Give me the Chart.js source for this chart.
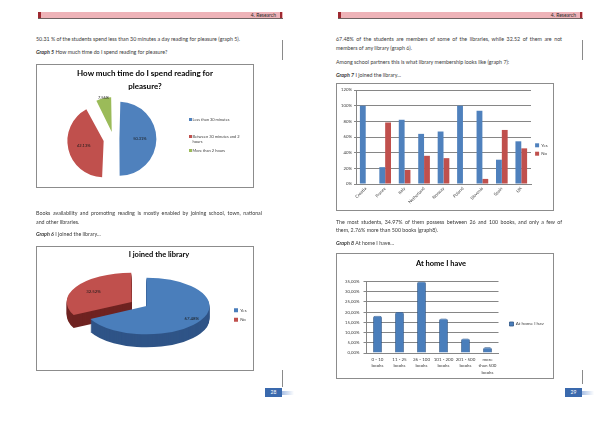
<!DOCTYPE html>
<html>
<head>
<meta charset="utf-8">
<script src="https://cdn.jsdelivr.net/npm/chart.js@4.4.1/dist/chart.umd.min.js"></script>
<style>
    html, body { margin: 0; padding: 0; background: #fff; }
    body { width: 600px; height: 424px; position: relative; overflow: hidden; font-family: Lato, 'Open Sans', sans-serif; color: #3a3a3a; }
    .txt { position: absolute; font-size: 5.3px; line-height: 9px; white-space: nowrap; }
    .just { width: 226px; text-align: justify; text-align-last: justify; }
    .band { position: absolute; top: 12px; width: 245px; height: 6px; background: #eeb3b8; border-bottom: 1px solid #6f6262; }
    .band::before, .band::after { content: ''; position: absolute; top: 0; width: 2.5px; height: 6px; background: #9e2a31; }
    .band::before { left: 0; }
    .band::after { right: 1px; }
    .band span { position: absolute; right: 7px; top: 0; font-size: 5px; line-height: 6px; color: #2a2a2a; }
    .vline { position: absolute; width: 1px; background: #8a8a8a; }
    .frame { position: absolute; border: 1px solid #8c8c8c; box-sizing: border-box; }
    canvas { position: absolute; }
    .pg { position: absolute; width: 17px; height: 9px; background: #3a69ad; color: #fff; font-size: 5px; line-height: 9px; text-align: center; }
    .swoosh { position: absolute; width: 12px; height: 4px; background: linear-gradient(to right, #a9c0e4, rgba(255,255,255,0)); }
    .ctitle { position: absolute; text-align: center; font-weight: bold; color: #000; font-size: 8px; line-height: 12.7px; }
    .legend { position: absolute; font-size: 4px; line-height: 5.5px; color: #404040; }
    .legend div { position: relative; padding-left: 3.5px; white-space: nowrap; }
    .legend i { position: absolute; left: 0; top: 1.3px; width: 3px; height: 3px; }
</style>
</head>
<body>

<!-- left page -->
<div class="band" style="left:38px"><span>4. Research</span></div>
<div class="vline" style="left:282px; top:40px; height:20px"></div>
<div class="txt" style="left:36px; top:34.5px">50.31 % of the students spend less than 30 minutes a day reading for pleasure (graph 5).</div>
<div class="txt" style="left:36px; top:47.5px"><b><i>Graph 5</i></b> How much time do I spend reading for pleasure?</div>
<canvas id="timeChart" width="218" height="124" style="left:36px; top:64px"></canvas>
<div class="ctitle" style="left:36px; top:67px; width:218px">How much time do I spend reading for<br>pleasure?</div>
<div class="legend" id="timeLegend" style="left:189px; top:117px"></div>
<div class="frame" style="left:36px; top:64px; width:218px; height:124px"></div>
<div class="txt just" style="left:36px; top:208.5px">Books availability and promoting reading is mostly enabled by joining school, town, national</div>
<div class="txt" style="left:36px; top:217.5px">and other libraries.</div>
<div class="txt" style="left:36px; top:229.5px"><b><i>Graph 6</i></b> I joined the library...</div>
<canvas id="joinedChart" width="218" height="125" style="left:36px; top:246px"></canvas>
<div class="frame" style="left:36px; top:246px; width:218px; height:125px"></div>
<div class="vline" style="left:282px; top:370px; height:17px"></div>
<div class="pg" style="left:265px; top:388px">28</div>
<div class="swoosh" style="left:282px; top:391px"></div>

<!-- right page -->
<div class="band" style="left:338px"><span>4. Research</span></div>
<div class="vline" style="left:582px; top:40px; height:20px"></div>
<div class="txt just" style="left:336px; top:34.5px">67.48% of the students are members of some of the libraries, while 32.52 of them are not</div>
<div class="txt" style="left:336px; top:43.5px">members of any library (graph 6).</div>
<div class="txt" style="left:336px; top:57.5px">Among school partners this is what library membership looks like (graph 7):</div>
<div class="txt" style="left:336px; top:70.5px"><b><i>Graph 7</i></b> I joined the library...</div>
<canvas id="countryChart" width="218" height="128" style="left:336px; top:83px"></canvas>
<div class="frame" style="left:336px; top:83px; width:218px; height:128px"></div>
<div class="txt just" style="left:336px; top:217.5px">The most students, 34.97% of them possess between 26 and 100 books, and only a few of</div>
<div class="txt" style="left:336px; top:226px">them, 2.76% more than 500 books (graph8).</div>
<div class="txt" style="left:336px; top:238.5px"><b><i>Graph 8</i></b> At home I have...</div>
<canvas id="booksChart" width="218" height="126" style="left:336px; top:253px"></canvas>
<div class="frame" style="left:336px; top:253px; width:218px; height:126px"></div>
<div class="vline" style="left:582px; top:370px; height:14px"></div>
<div class="pg" style="left:565px; top:388px">29</div>
<div class="swoosh" style="left:582px; top:391px"></div>

<script>
    // graph 5
    const timeLabels = ['Less than 30 minutes', ['Between 30 minutes and 2', 'hours'], 'More than 2 hours'];
    const timeValues = [50.31, 42.13, 7.56];
    const timeColors = ['#4f81bd', '#c0504d', '#9bbb59'];

    // graph 6
    const joinedLabels = ['Yes', 'No'];
    const joinedValues = [67.48, 32.52];

    // graph 7
    const countries = ['Croatia', 'France', 'Italy', 'Netherland', 'Norway', 'Poland', 'Slovenia', 'Spain', 'UK'];
    const yesValues = [100, 21.5, 82, 64, 67, 100, 93.5, 31, 54.5];
    const noValues = [0, 78.5, 18, 36, 33, 0, 6.5, 69, 45.5];
    const shareTicks = ['0%', '20%', '40%', '60%', '80%', '100%', '120%'];

    // graph 8
    const bookLabels = [['0 - 10', 'books'], ['11 - 25', 'books'], ['26 - 100', 'books'], ['101 - 200', 'books'], ['201 - 500', 'books'], ['more', 'than 500', 'books']];
    const bookValues = [18.2, 20.1, 34.97, 16.9, 7.07, 2.76];
    const bookTicks = ['0,00%', '5,00%', '10,00%', '15,00%', '20,00%', '25,00%', '30,00%', '35,00%'];

    Chart.defaults.font.family = 'Lato';
    Chart.defaults.color = '#404040';
    Chart.defaults.animation = false;
    Chart.defaults.responsive = false;
    Chart.defaults.plugins.tooltip.enabled = false;

    // percentage text on each slice (arc offset is drawn at a quarter of its value)
    const sliceLabels = {
        id: 'sliceLabels',
        afterDatasetsDraw(chart, args, opts) {
            const ctx = chart.ctx;
            const values = chart.data.datasets[0].data;
            ctx.save();
            ctx.font = opts.size + 'px Lato';
            ctx.fillStyle = '#1a1a1a';
            ctx.textAlign = 'center';
            ctx.textBaseline = 'middle';
            chart.getDatasetMeta(0).data.forEach((arc, i) => {
                const mid = (arc.startAngle + arc.endAngle) / 2;
                const r = arc.outerRadius * opts.factors[i] + (arc.options.offset || 0) / 4;
                const x = arc.x + Math.cos(mid) * r;
                const y = arc.y + Math.sin(mid) * r * opts.tilt;
                ctx.fillText(values[i].toFixed(2) + '%', x, y);
            });
            ctx.restore();
        }
    };

    // flattens the pie and gives it a side wall
    const pie3d = {
        id: 'pie3d',
        beforeDatasetsDraw(chart, args, opts) {
            const ctx = chart.ctx;
            const arcs = chart.getDatasetMeta(0).data;
            const cx = arcs[0].x, cy = arcs[0].y;
            ctx.save();
            for (let d = opts.depth; d > 0; d--) {
                ctx.save();
                ctx.translate(cx, cy + d);
                ctx.scale(1, opts.tilt);
                ctx.translate(-cx, -cy);
                arcs.forEach((arc, i) => {
                    const saved = arc.options;
                    arc.options = Object.assign({}, saved, { backgroundColor: opts.sideColors[i] });
                    arc.draw(ctx);
                    arc.options = saved;
                });
                ctx.restore();
            }
            ctx.translate(cx, cy);
            ctx.scale(1, opts.tilt);
            ctx.translate(-cx, -cy);
        },
        afterDatasetsDraw(chart) {
            chart.ctx.restore();
        }
    };

    document.addEventListener('DOMContentLoaded', function () {
        const ctx = document.getElementById('timeChart').getContext('2d');
        new Chart(ctx, {
            type: 'pie',
            data: {
                labels: timeLabels,
                datasets: [{
                    data: timeValues,
                    backgroundColor: timeColors,
                    borderWidth: 0,
                    offset: [24, 40, 28],
                    radius: 31
                }]
            },
            options: {
                layout: { padding: { left: 0, right: 63.2, top: 30, bottom: 4.4 } },
                plugins: {
                    legend: { display: false },
                    sliceLabels: { size: 4, tilt: 1, factors: [0.66, 0.66, 1.13] }
                }
            },
            plugins: [sliceLabels]
        });

        // legend beside the pie, built from the same labels and colours
        const box = document.getElementById('timeLegend');
        const gaps = [0, 11, 3];
        timeLabels.forEach(function (label, i) {
            const item = document.createElement('div');
            item.style.marginTop = gaps[i] + 'px';
            item.innerHTML = '<i style="background:' + timeColors[i] + '"></i>' + [].concat(label).join('<br>');
            box.appendChild(item);
        });
    });

    document.addEventListener('DOMContentLoaded', function () {
        const ctx = document.getElementById('joinedChart').getContext('2d');
        new Chart(ctx, {
            type: 'pie',
            data: {
                labels: joinedLabels,
                datasets: [{
                    data: joinedValues,
                    backgroundColor: ['#4a7ebb', '#c0504d'],
                    borderWidth: 0,
                    offset: [0, 70],
                    radius: 63,
                    clip: false
                }]
            },
            options: {
                layout: { padding: { left: 28, right: 0, top: 0, bottom: 20.5 } },
                plugins: {
                    title: {
                        display: true,
                        text: 'I joined the library',
                        color: '#000',
                        font: { size: 7.5, weight: 'bold' },
                        padding: { top: 4.5, bottom: 2 }
                    },
                    legend: {
                        position: 'right',
                        fullSize: false,
                        maxWidth: 25,
                        title: { display: true, text: ' ', font: { size: 4, lineHeight: 1 }, padding: { top: 14, bottom: 0 } },
                        labels: { boxWidth: 4, boxHeight: 4, padding: 5, font: { size: 4.3 } }
                    },
                    pie3d: { depth: 13, tilt: 0.45, sideColors: ['#2f5487', '#6f2321'] },
                    sliceLabels: { size: 4.3, tilt: 0.45, factors: [0.84, 0.71] }
                }
            },
            plugins: [pie3d, sliceLabels]
        });
    });

    document.addEventListener('DOMContentLoaded', function () {
        const ctx = document.getElementById('countryChart').getContext('2d');
        new Chart(ctx, {
            type: 'bar',
            data: {
                labels: countries,
                datasets: [
                    { label: 'Yes', data: yesValues, backgroundColor: '#4f81bd' },
                    { label: 'No', data: noValues, backgroundColor: '#c0504d' }
                ]
            },
            options: {
                categoryPercentage: 0.6,
                barPercentage: 1,
                layout: { padding: { left: 4, right: 0, top: 7, bottom: 2 } },
                scales: {
                    x: {
                        grid: { display: false, drawTicks: false },
                        border: { color: '#868686' },
                        ticks: { font: { size: 4.3 }, minRotation: 45, maxRotation: 45, autoSkip: false, padding: 2 },
                        afterFit: function (scale) { scale.height = 25; }
                    },
                    y: {
                        min: 0,
                        max: 120,
                        grid: { color: '#868686', tickLength: 2 },
                        border: { color: '#868686' },
                        ticks: {
                            stepSize: 20,
                            font: { size: 4.3 },
                            padding: 2,
                            callback: function (value, index) { return shareTicks[index]; }
                        },
                        afterFit: function (scale) { scale.width = 16; }
                    }
                },
                plugins: {
                    legend: {
                        position: 'right',
                        maxWidth: 23,
                        labels: { boxWidth: 4, boxHeight: 4, padding: 4.1, font: { size: 4.3 } }
                    }
                }
            }
        });
    });

    document.addEventListener('DOMContentLoaded', function () {
        const ctx = document.getElementById('booksChart').getContext('2d');
        new Chart(ctx, {
            type: 'bar',
            data: {
                labels: bookLabels,
                datasets: [{
                    label: 'At home I have',
                    data: bookValues,
                    backgroundColor: '#4a7ebb',
                    borderColor: '#2f5687',
                    borderWidth: 0.8,
                    borderRadius: { topLeft: 2, topRight: 2 },
                    borderSkipped: 'bottom'
                }]
            },
            options: {
                categoryPercentage: 0.4,
                barPercentage: 1,
                layout: { padding: { left: 2, right: 10, top: 0, bottom: 2 } },
                scales: {
                    x: {
                        grid: { display: false, drawTicks: false },
                        border: { color: '#868686' },
                        ticks: { font: { size: 4.5, lineHeight: 1.45 }, maxRotation: 0, autoSkip: false, padding: 3 },
                        afterFit: function (scale) { scale.height = 24; }
                    },
                    y: {
                        min: 0,
                        max: 35,
                        grid: { color: '#868686', tickLength: 3 },
                        border: { color: '#868686' },
                        ticks: {
                            stepSize: 5,
                            font: { size: 4.3 },
                            padding: 4,
                            callback: function (value, index) { return bookTicks[index]; }
                        },
                        afterFit: function (scale) { scale.width = 28.5; }
                    }
                },
                plugins: {
                    title: {
                        display: true,
                        text: 'At home I have',
                        color: '#000',
                        font: { size: 7.5, weight: 'bold' },
                        padding: { top: 5.8, bottom: 13.7 }
                    },
                    legend: {
                        position: 'right',
                        maxWidth: 45.5,
                        title: { display: true, text: ' ', font: { size: 4, lineHeight: 1 }, padding: { top: 14, bottom: 0 } },
                        labels: { boxWidth: 4, boxHeight: 4, padding: 11, font: { size: 4.6 } }
                    }
                }
            }
        });
    });
</script>
</body>
</html>
